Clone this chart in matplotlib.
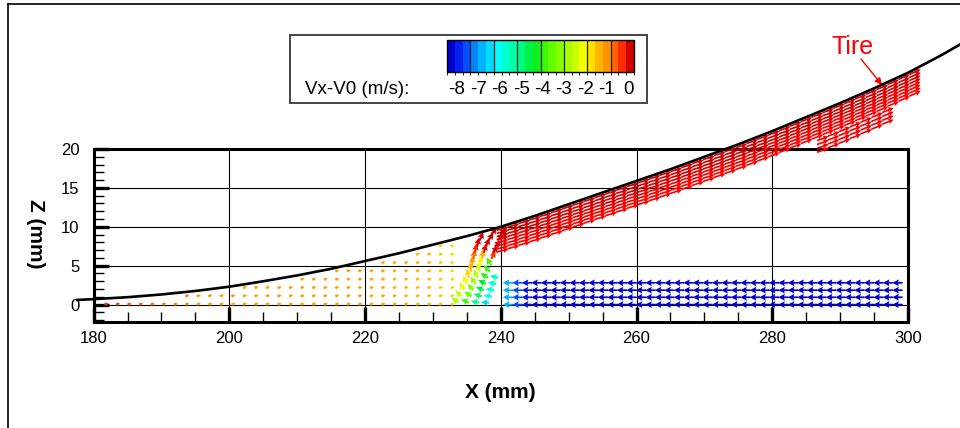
import numpy as np
import matplotlib
matplotlib.use('Agg')
import matplotlib.pyplot as plt
from matplotlib.colors import LinearSegmentedColormap, BoundaryNorm, Normalize
from matplotlib.patches import Rectangle
from matplotlib.lines import Line2D
from matplotlib.ticker import MultipleLocator
from matplotlib.cm import ScalarMappable

plt.rcParams['font.family'] = ['Liberation Sans', 'DejaVu Sans']

# ---------------- data ----------------
# tire surface (mm)
tire_x = [177.6, 180, 185, 190, 195, 200, 205, 210, 215, 220, 225, 230, 235, 240, 245,
          250, 255, 260, 265, 270, 275, 280, 285, 290, 295, 300, 305, 307.8]
tire_z = [0.6, 0.7, 0.95, 1.3, 1.75, 2.3, 3.0, 3.75, 4.6, 5.6, 6.6, 7.7, 8.8, 10.0, 11.4,
          12.9, 14.4, 15.9, 17.4, 19.0, 20.6, 22.3, 24.1, 25.9, 27.8, 29.8, 32.1, 33.5]

# incoming water jet (blue): tail stations, rows, Vx-V0 per station
jet_x = [241.8, 243.2, 244.6, 246.0, 247.4, 248.8, 250.2, 251.6, 253.0, 254.4, 255.8,
         257.2, 258.6, 260.0, 261.4, 262.8, 264.2, 265.6, 267.0, 268.4, 269.8, 271.2,
         272.6, 274.0, 275.4, 276.8, 278.2, 279.6, 281.0, 282.4, 283.8, 285.2, 286.6,
         288.0, 289.4, 290.8, 292.2, 293.6, 295.0, 296.4, 297.8, 299.2]
jet_z = [0.0, 0.94, 1.85, 2.8]
jet_c = [-6.6, -7.3, -7.8] + [-8.0] * 39
jet_speed = 8.0

# water wedge under the tire (orange, slow)
wedge_x = [181.6, 183.3, 185.0, 186.7, 188.4, 190.1, 191.8, 193.5, 195.2, 196.9, 198.6,
           200.3, 202.0, 203.7, 205.4, 207.1, 208.8, 210.5, 212.2, 213.9, 215.6, 217.3,
           219.0, 220.7, 222.4, 224.1, 225.8, 227.5, 229.2, 230.9, 232.6]
wedge_z = [0.0, 1.07, 2.14, 3.21, 4.28, 5.35, 6.42, 7.49, 8.56]
wedge_c = [-0.4, -0.5, -0.6, -0.7, -0.8, -0.9, -1.0, -1.0, -1.1, -1.1, -1.2,
           -1.2, -1.2, -1.2, -1.2, -1.2, -1.2, -1.2, -1.2, -1.2, -1.2, -1.2,
           -1.2, -1.3, -1.3, -1.4, -1.4, -1.5, -1.5, -1.6, -1.7]
wedge_speed = 3.2
wedge_angle = 15.0

# turning zone where the jet is deflected up along the tire
trans_x = [233.8, 235.3, 236.8, 238.3,
           234.2, 235.7, 237.2, 238.7,
           234.6, 236.0, 237.5, 239.0,
           235.0, 236.3, 237.8, 239.3,
           235.3, 236.6, 238.1, 239.6,
           235.6, 236.9, 238.4,
           235.8, 237.1, 238.6,
           236.0, 237.3, 238.6,
           236.2, 237.5, 238.8,
           236.5, 237.8, 239.1,
           236.9, 238.2, 239.5,
           238.6, 239.9]
trans_z = [0.25, 0.25, 0.25, 0.25,
           1.05, 1.05, 1.05, 1.05,
           1.85, 1.85, 1.85, 1.85,
           2.65, 2.65, 2.65, 2.65,
           3.45, 3.45, 3.45, 3.45,
           4.25, 4.25, 4.25,
           5.05, 5.05, 5.05,
           5.85, 5.85, 5.85,
           6.65, 6.65, 6.65,
           7.45, 7.45, 7.45,
           8.25, 8.25, 8.25,
           9.05, 9.05]
trans_ang = [150, 160, 170, 178,
             140, 150, 165, 175,
             125, 140, 160, 172,
             115, 130, 155, 170,
             105, 120, 150, 168,
             95, 110, 140,
             90, 100, 125,
             85, 90, 60,
             80, 75, 50,
             75, 65, 40,
             65, 55, 35,
             45, 30]
trans_c = [-2.8, -3.8, -5.0, -6.3,
           -2.5, -3.5, -4.8, -6.0,
           -2.2, -3.2, -4.5, -5.8,
           -2.0, -3.0, -4.3, -5.6,
           -1.7, -2.7, -4.0, -5.4,
           -1.5, -2.4, -3.8,
           -1.2, -2.0, -3.8,
           -0.8, -1.4, -0.4,
           -0.3, -0.1, 0.0,
           0.0, 0.0, 0.0,
           0.0, 0.0, 0.0,
           0.0, 0.0]
trans_speed = 6.5

# red sheet of water thrown up along the tire
band_x = [239.4, 241.0, 242.6, 244.2, 245.8, 247.4, 249.0, 250.6, 252.2, 253.8, 255.4,
          257.0, 258.6, 260.2, 261.8, 263.4, 265.0, 266.6, 268.2, 269.8, 271.4, 273.0,
          274.6, 276.2, 277.8, 279.4, 281.0, 282.6, 284.2, 285.8, 287.4, 289.0, 290.6,
          292.2, 293.8, 295.4, 297.0, 298.6, 300.2]
band_depth = [0.3, 0.7, 1.1, 1.5, 1.9, 2.3, 2.7, 3.1]
band_c = [0.0, 0.0, 0.0, -0.05, -0.1, -0.1, -0.15, -0.15]
tail_x = [286.6, 288.2, 289.8, 291.4, 293.0, 294.6, 296.2]
tail_depth = [3.6, 4.1, 4.6, 5.1]
band_speed = 9.5

# colour bar
cbar_ticks = [-8, -7, -6, -5, -4, -3, -2, -1, 0]
cbar_title = 'Vx-V0 (m/s):'

# ---------------- style ----------------
W, H = 960, 428
cmap = LinearSegmentedColormap.from_list('tec', [
    (0.0, '#0000d0'), (0.0625, '#0030ff'), (0.125, '#0080ff'), (0.19, '#00c4ff'),
    (0.25, '#00ffff'), (0.375, '#00ff90'), (0.46, '#00ec20'), (0.56, '#60ff00'),
    (0.69, '#c8ff00'), (0.75, '#ffff00'), (0.81, '#ffc000'), (0.875, '#ff8c00'),
    (0.94, '#ff4000'), (0.985, '#ff0000'), (1.0, '#d00000')])
norm = Normalize(-8, 0)
SCALE = 5.3  # m/s per mm of arrow

fig = plt.figure(figsize=(W / 100, H / 100), dpi=100)
ax = fig.add_axes([93.6 / W, 1 - 321.7 / H, (908 - 93.6) / W, (321.7 - 149) / H])
ax.set_xlim(180, 300)
ax.set_ylim(-2.2, 20)

tx = np.array(tire_x)
tz = np.array(tire_z)

# wedge (short dashes)
WX, WZ = np.meshgrid(wedge_x, wedge_z)
WC = np.tile(wedge_c, (len(wedge_z), 1))
mask = WZ < np.interp(WX, tx, tz) - 0.4
a = np.deg2rad(wedge_angle)
ax.quiver(WX[mask], WZ[mask], wedge_speed * np.cos(a) * np.ones(mask.sum()),
          wedge_speed * np.sin(a) * np.ones(mask.sum()), WC[mask], cmap=cmap, norm=norm,
          angles='xy', scale_units='xy', scale=SCALE, width=0.0028,
          headwidth=1.6, headlength=1.2, headaxislength=1.2, minlength=0.1, zorder=3)

# jet
JX, JZ = np.meshgrid(jet_x, jet_z)
JC = np.tile(jet_c, (len(jet_z), 1))
ax.quiver(JX.ravel(), JZ.ravel(), -jet_speed * np.ones(JX.size), np.zeros(JX.size),
          JC.ravel(), cmap=cmap, norm=norm, angles='xy', scale_units='xy', scale=SCALE,
          width=0.0021, headwidth=4.0, headlength=3.8, headaxislength=3.4, zorder=4)

# transition
ang = np.deg2rad(trans_ang)
ax.quiver(trans_x, trans_z, trans_speed * np.cos(ang), trans_speed * np.sin(ang), trans_c,
          cmap=cmap, norm=norm, angles='xy', scale_units='xy', scale=SCALE,
          width=0.0026, headwidth=3.2, headlength=3.2, headaxislength=2.8, zorder=4)

# red band
slope = np.gradient(tz, tx)
bx_all, bz_all, bc_all = [], [], []
for d, c in zip(band_depth, band_c):
    for x in band_x:
        bx_all.append(x); bz_all.append(np.interp(x, tx, tz) - d); bc_all.append(c)
for d in tail_depth:
    for x in tail_x:
        bx_all.append(x); bz_all.append(np.interp(x, tx, tz) - d); bc_all.append(-0.1)
bx_all = np.array(bx_all)
th = np.arctan(np.interp(bx_all, tx, slope)) - np.deg2rad(2)
q = ax.quiver(bx_all, bz_all, band_speed * np.cos(th), band_speed * np.sin(th), bc_all,
              cmap=cmap, norm=norm, angles='xy', scale_units='xy', scale=SCALE,
              width=0.0021, headwidth=3.2, headlength=3.2, headaxislength=2.8, zorder=5)
q.set_clip_on(False)

# tire curve
ax.plot(tire_x, tire_z, color='black', lw=1.9, clip_on=False, zorder=6)

# axes styling
ax.set_xticks([180, 200, 220, 240, 260, 280, 300])
ax.set_yticks([0, 5, 10, 15, 20])
ax.xaxis.set_minor_locator(MultipleLocator(5))
ax.yaxis.set_minor_locator(MultipleLocator(1))
ax.tick_params(which='major', direction='in', length=11, width=2.4, labelsize=12,
               top=False, right=False)
ax.tick_params(axis='y', which='major', pad=10)
ax.tick_params(axis='x', which='major', pad=7)
ax.tick_params(which='minor', direction='in', length=7, width=1.0, top=False, right=False)
ax.grid(True, which='major', color='black', lw=0.8)
for s in ax.spines.values():
    s.set_linewidth(2.2)
ax.set_axisbelow(True)

fig.text(500 / W, 1 - 393 / H, 'X (mm)', fontsize=15, fontweight='bold', ha='center', va='center')
fig.text(35 / W, 1 - 234 / H, 'Z (mm)', fontsize=15, fontweight='bold', ha='center',
         va='center', rotation=270)

# Tire label
fig.text(853 / W, 1 - 47 / H, 'Tire', fontsize=18, color='#ff0000', ha='center', va='center')
ax.annotate('', xy=(882 / W, 1 - 85 / H), xycoords='figure fraction',
            xytext=(861 / W, 1 - 59 / H), textcoords='figure fraction',
            arrowprops=dict(arrowstyle='-|>', color='#ff0000', lw=1.0,
                            mutation_scale=10, shrinkA=0, shrinkB=0))

# legend box with colour bar
fig.add_artist(Rectangle((290 / W, 1 - 103 / H), 357 / W, 68 / H, transform=fig.transFigure,
                         fill=False, edgecolor='#444444', lw=1.4))
cax = fig.add_axes([447 / W, 1 - 72 / H, 187 / W, 32 / H])
bnorm = BoundaryNorm(np.linspace(-8, 0, 25), cmap.N)
cb = fig.colorbar(ScalarMappable(norm=bnorm, cmap=cmap), cax=cax, orientation='horizontal')
cb.set_ticks([])
cb.outline.set_linewidth(1.0)
for t in cbar_ticks[1:-1]:
    cax.axvline(t, color='#222222', lw=0.9)
for i, t in enumerate(cbar_ticks):
    fig.text((457 + 21.4 * i) / W, 1 - 89 / H, str(t), fontsize=13.5, ha='center', va='center')
fig.text(305 / W, 1 - 89 / H, cbar_title, fontsize=13.5, ha='left', va='center')

# outer frame lines
fig.add_artist(Line2D([8 / W, 8 / W], [0, 1 - 4 / H], transform=fig.transFigure, color='black', lw=1.2))
fig.add_artist(Line2D([8 / W, 1], [1 - 4 / H, 1 - 4 / H], transform=fig.transFigure, color='black', lw=1.2))

fig.savefig('out.png', dpi=100)
